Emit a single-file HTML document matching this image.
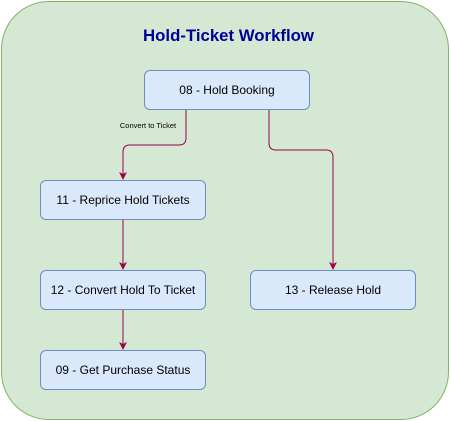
<!DOCTYPE html>
<html><head><style>
body{margin:0;width:451px;height:421px;overflow:hidden;background:#fff;font-family:"Liberation Sans",Arial,sans-serif}
.c{position:absolute;left:1px;top:1px;width:446px;height:417px;background:#d5e8d4;border:1px solid #82b366;border-radius:48px}
.t{position:absolute;left:0;width:457px;top:26px;text-align:center;font-weight:bold;font-size:16.8px;color:#000099}
.b{position:absolute;width:164px;height:38px;background:#dae8fc;border:1px solid #6c8ebf;border-radius:6px;display:flex;align-items:center;justify-content:center;font-size:12px;color:#000}
svg{position:absolute;left:0;top:0}
</style></head><body>
<div class="c"></div>
<div class="t">Hold-Ticket Workflow</div>
<svg width="451" height="421">
<g fill="none" stroke="#99004d" stroke-width="1">
<path d="M186,110 V138 Q186,145 179,145 H130 Q123,145 123,152 V178"/>
<path d="M123,220 V268"/>
<path d="M123,310 V348"/>
<path d="M269,110 V143 Q269,150 276,150 H326 Q333,150 333,157 V268"/>
</g>
<g fill="#99004d">
<path d="M119,172 L123,180 L127,172 L123,174Z"/>
<path d="M119,262 L123,270 L127,262 L123,264Z"/>
<path d="M119,342 L123,350 L127,342 L123,344Z"/>
<path d="M329,262 L333,270 L337,262 L333,264Z"/>
</g>
<text x="148" y="128" font-size="7.5" text-anchor="middle" font-family="Liberation Sans,sans-serif" fill="#000">Convert to Ticket</text>
</svg>
<div class="b" style="left:144px;top:70px">08 - Hold Booking</div>
<div class="b" style="left:40px;top:180px">11 - Reprice Hold Tickets</div>
<div class="b" style="left:40px;top:270px">12 - Convert Hold To Ticket</div>
<div class="b" style="left:40px;top:350px">09 - Get Purchase Status</div>
<div class="b" style="left:250px;top:270px">13 - Release Hold</div>
</body></html>
